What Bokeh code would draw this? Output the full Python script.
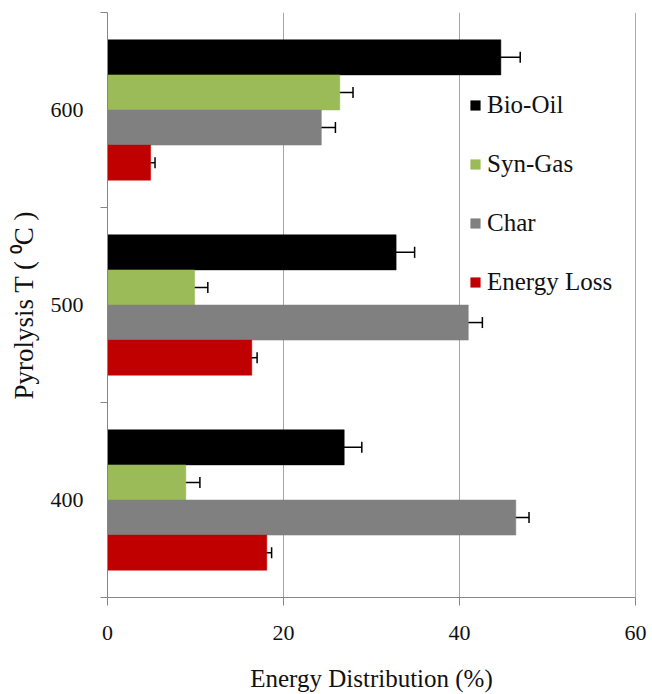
from bokeh.plotting import figure
from bokeh.models import (ColumnDataSource, Whisker, FixedTicker, Legend, LegendItem,
                          TeeHead, Span)
from bokeh.embed import file_html
from bokeh.resources import INLINE

# ---- data ----
temps = ["400", "500", "600"]
series = ["Bio-Oil", "Syn-Gas", "Char", "Energy Loss"]
bio_oil = [26.9, 32.8, 44.7]
syn_gas = [8.9, 9.9, 26.4]
char = [46.4, 41.0, 24.3]
energy_loss = [18.1, 16.4, 4.9]
bio_oil_err = [2.0, 2.1, 2.2]
syn_gas_err = [1.6, 1.5, 1.5]
char_err = [1.5, 1.6, 1.6]
energy_loss_err = [0.55, 0.6, 0.5]
x_ticks = [0, 20, 40, 60]

colors = ["#000000", "#9BBB59", "#808080", "#C00000"]
offsets = [0.27, 0.09, -0.09, -0.27]
bar_h = 0.18
FONT = "Liberation Serif"

values = [bio_oil, syn_gas, char, energy_loss]
errors = [bio_oil_err, syn_gas_err, char_err, energy_loss_err]

p = figure(width=652, height=694, x_range=(0, 60), y_range=(-0.5, 2.5),
           output_backend="svg", toolbar_location=None,
           min_border_left=107, min_border_right=17, min_border_top=12, min_border_bottom=97)
p.outline_line_color = None
p.background_fill_color = "white"

items = []
for name, vals, errs, col, off in zip(series, values, errors, colors, offsets):
    ys = [i + off for i in range(len(temps))]
    src = ColumnDataSource(dict(y=ys, right=vals,
                                lower=[v - e for v, e in zip(vals, errs)],
                                upper=[v + e for v, e in zip(vals, errs)]))
    r = p.hbar(y="y", left=0, right="right", height=bar_h, source=src,
               fill_color=col, line_color=col, line_width=0.5)
    w = Whisker(source=src, base="y", lower="lower", upper="upper", dimension="width",
                line_color="black", line_width=1.5,
                lower_head=TeeHead(size=11, line_color="black", line_width=1.5),
                upper_head=TeeHead(size=11, line_color="black", line_width=1.5))
    p.add_layout(w)
    items.append(LegendItem(label=name, renderers=[r]))

p.add_layout(Span(location=60, dimension="height", line_color="#595959", line_width=1))

# x axis
p.xaxis.ticker = FixedTicker(ticks=x_ticks)
p.xaxis.axis_label = "Energy Distribution (%)"
p.xaxis.minor_tick_line_color = None
p.xaxis.major_tick_in = 0
p.xaxis.major_tick_out = 8
p.xaxis.major_label_standoff = 20
p.xaxis.axis_label_standoff = 22

# y axis
p.yaxis.ticker = FixedTicker(ticks=[0, 1, 2], minor_ticks=[-0.5, 0.5, 1.5, 2.5])
p.yaxis.major_label_overrides = {i: t for i, t in enumerate(temps)}
p.yaxis.axis_label = "Pyrolysis T ( \u2070C )"
p.yaxis.major_tick_in = 0
p.yaxis.major_tick_out = 0
p.yaxis.minor_tick_in = 0
p.yaxis.minor_tick_out = 7
p.yaxis.major_label_standoff = 17
p.yaxis.axis_label_standoff = 9
p.yaxis.major_label_orientation = "horizontal"

for ax in (p.xaxis, p.yaxis):
    ax.axis_line_color = "#868686"
    ax.major_tick_line_color = "#868686"
    ax.major_label_text_font = FONT
    ax.major_label_text_font_size = "22px"
    ax.major_label_text_color = "#111111"
    ax.axis_label_text_font = FONT
    ax.axis_label_text_font_style = "normal"
    ax.axis_label_text_color = "#111111"
p.xaxis.axis_label_text_font_size = "25px"
p.yaxis.axis_label_text_font_size = "27px"
p.yaxis.minor_tick_line_color = "#868686"

p.xgrid.ticker = FixedTicker(ticks=x_ticks)
p.xgrid.grid_line_color = "#A6A6A6"
p.ygrid.grid_line_color = None

legend = Legend(items=items, location=(362, 301))
legend.border_line_color = None
legend.background_fill_alpha = 0
legend.padding = 0
legend.margin = 0
legend.glyph_width = 12
legend.glyph_height = 12
legend.label_standoff = 6
legend.label_height = 22
legend.spacing = 31
legend.label_text_font = FONT
legend.label_text_font_size = "25px"
legend.label_text_color = "#111111"
p.add_layout(legend)

open("out.html", "w").write(file_html(p, INLINE))
